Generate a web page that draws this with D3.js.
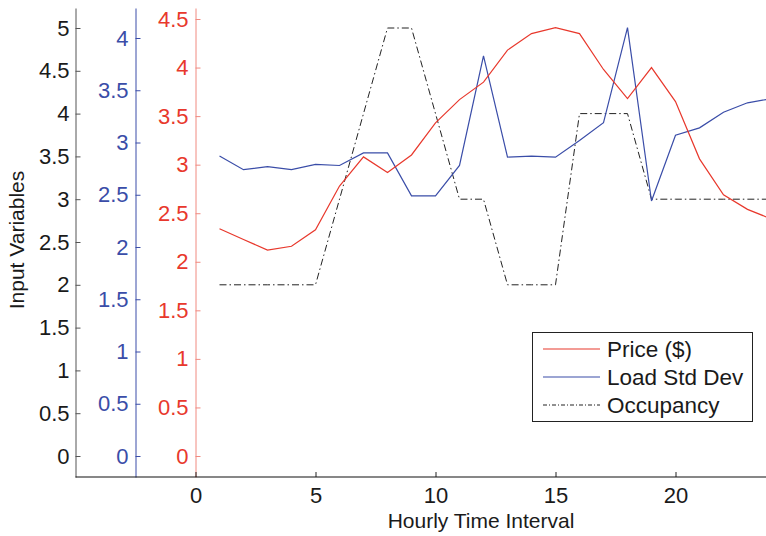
<!DOCTYPE html>
<html>
<head>
<meta charset="utf-8">
<script src="https://cdn.jsdelivr.net/npm/d3@7"></script>
<style>
  html, body { margin: 0; padding: 0; background: #fff; }
  svg { display: block; font-family: "Liberation Sans", Arial, sans-serif; }
</style>
</head>
<body>
<svg id="chart" width="766" height="536"></svg>
<script>
// ---- data ----
const hours = [1,2,3,4,5,6,7,8,9,10,11,12,13,14,15,16,17,18,19,20,21,22,23,24];
const price = [2.34,2.23,2.12,2.16,2.33,2.78,3.08,2.92,3.10,3.43,3.67,3.85,4.18,4.35,4.41,4.35,3.98,3.68,4.00,3.65,3.06,2.69,2.54,2.44];
const loadStd = [2.87,2.74,2.77,2.74,2.79,2.78,2.90,2.90,2.49,2.49,2.78,3.83,2.86,2.87,2.86,3.02,3.19,4.10,2.44,3.07,3.14,3.29,3.38,3.42];
const occupancy = [2,2,2,2,2,3,4,5,5,4,3,3,2,2,2,4,4,4,3,3,3,3,3,3];
const xTicks = [0,5,10,15,20];
const blackTicks = [0,0.5,1,1.5,2,2.5,3,3.5,4,4.5,5];
const blueTicks = [0,0.5,1,1.5,2,2.5,3,3.5,4];
const redTicks = [0,0.5,1,1.5,2,2.5,3,3.5,4,4.5];
const seriesNames = ["Price ($)", "Load Std Dev", "Occupancy"];
const xLabel = "Hourly Time Interval";
const yLabel = "Input Variables";

// ---- layout ----
const W = 766, H = 536;
const plotTop = 8, plotBottom = 477;
const colRed = "#e8382c", colBlue = "#3a4da8", colBlack = "#222";
const tickFont = "22px", labelFont = "21px", legendFont = "22.5px";

const svg = d3.select("#chart");

const x = d3.scaleLinear().domain([-5, 24]).range([75.5, 771.5]);

// y scales: calibrated by tick positions, then extended to the axis extent
function makeY(top, topPx) {
  const s = d3.scaleLinear().domain([0, top]).range([456, topPx]);
  return d3.scaleLinear().domain([s.invert(plotBottom), s.invert(plotTop)]).range([plotBottom, plotTop]);
}
const yBlack = makeY(5, 28);
const yBlue = makeY(4, 38);
const yRed = makeY(4.5, 19);

const fmt = d => String(d);

// black (outer) axis
const gBlack = svg.append("g").attr("transform", `translate(${x(-5)},0)`)
  .call(d3.axisLeft(yBlack).tickValues(blackTicks).tickFormat(fmt).tickSizeInner(-5).tickSizeOuter(0).tickPadding(6));
gBlack.select(".domain").attr("stroke", "#555");
gBlack.selectAll(".tick line").attr("stroke", "#555");
gBlack.selectAll("text").attr("fill", "#1a1a1a").style("font-size", tickFont);

// blue axis
const gBlue = svg.append("g").attr("transform", `translate(${x(-2.5)},0)`)
  .call(d3.axisLeft(yBlue).tickValues(blueTicks).tickFormat(fmt).tickSizeInner(-5).tickSizeOuter(0).tickPadding(7));
gBlue.select(".domain").attr("stroke", colBlue);
gBlue.selectAll(".tick line").attr("stroke", colBlue);
gBlue.selectAll("text").attr("fill", colBlue).style("font-size", tickFont);

// red axis
const gRed = svg.append("g").attr("transform", `translate(${x(0)},0)`)
  .call(d3.axisLeft(yRed).tickValues(redTicks).tickFormat(fmt).tickSizeInner(-5).tickSizeOuter(0).tickPadding(7));
gRed.select(".domain").attr("stroke", "#f08a80");
gRed.selectAll(".tick line").attr("stroke", "#f08a80");
gRed.selectAll("text").attr("fill", colRed).style("font-size", tickFont);

// x axis
const gX = svg.append("g").attr("transform", `translate(0,${plotBottom})`)
  .call(d3.axisBottom(x).tickValues(xTicks).tickFormat(fmt).tickSizeInner(-5).tickSizeOuter(0).tickPadding(10));
gX.select(".domain").remove();
gX.selectAll(".tick line").attr("stroke", "#222");
gX.selectAll("text").attr("fill", "#1a1a1a").style("font-size", tickFont);
svg.append("line").attr("x1", x(-5)).attr("x2", W).attr("y1", plotBottom).attr("y2", plotBottom)
  .attr("stroke", "#111").attr("stroke-width", 1.2);

// labels
svg.append("text").attr("x", 481).attr("y", 528)
  .attr("text-anchor", "middle").style("font-size", labelFont).attr("fill", "#1a1a1a").text(xLabel);
svg.append("text").attr("transform", "translate(24,240) rotate(-90)")
  .attr("text-anchor", "middle").style("font-size", labelFont).attr("fill", "#1a1a1a").text(yLabel);

// lines
const lineRed = d3.line().x((d, i) => x(hours[i])).y(d => yRed(d));
const lineBlue = d3.line().x((d, i) => x(hours[i])).y(d => yBlue(d));
const lineBlack = d3.line().x((d, i) => x(hours[i])).y(d => yBlack(d));

svg.append("path").datum(occupancy).attr("d", lineBlack).attr("fill", "none")
  .attr("stroke", colBlack).attr("stroke-width", 1).attr("stroke-dasharray", "7,3,1.5,3");
svg.append("path").datum(loadStd).attr("d", lineBlue).attr("fill", "none")
  .attr("stroke", colBlue).attr("stroke-width", 1.2);
svg.append("path").datum(price).attr("d", lineRed).attr("fill", "none")
  .attr("stroke", colRed).attr("stroke-width", 1.2);

// legend
const lg = svg.append("g");
lg.append("rect").attr("x", 532.5).attr("y", 332.5).attr("width", 220).attr("height", 89)
  .attr("fill", "#fff").attr("stroke", "#222").attr("stroke-width", 1);
const legStyles = [
  { c: colRed, dash: null, w: 1.2 },
  { c: colBlue, dash: null, w: 1.2 },
  { c: colBlack, dash: "4,2,1,2", w: 1 }
];
seriesNames.forEach((name, i) => {
  const yy = 349 + i * 28;
  lg.append("line").attr("x1", 543).attr("x2", 600).attr("y1", yy).attr("y2", yy)
    .attr("stroke", legStyles[i].c).attr("stroke-width", legStyles[i].w)
    .attr("stroke-dasharray", legStyles[i].dash);
  lg.append("text").attr("x", 607).attr("y", yy).attr("dy", "0.36em")
    .style("font-size", legendFont).attr("fill", "#1a1a1a").text(name);
});
</script>
</body>
</html>
